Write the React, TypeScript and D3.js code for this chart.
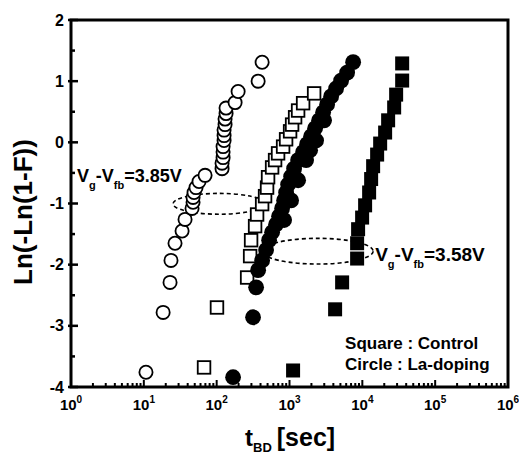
import React from "react";
import * as d3 from "d3";

// Weibull plot of breakdown time: ln(-ln(1-F)) vs t_BD
// Open markers: Vg-Vfb = 3.85 V, filled markers: Vg-Vfb = 3.58 V
// Squares: control, circles: La-doping

const laDoping385T = [10.7, 18.4, 22.9, 23.6, 26.8, 33.5, 36.8, 45.9, 47.4, 47.4, 48.9, 52.1, 57.3, 69.3, 118.6, 118.6, 122.5, 122.5, 122.5, 126.4, 126.4, 126.4, 130.4, 130.4, 134.6, 134.6, 179, 197, 371, 421];
const laDoping385V = [-3.76, -2.78, -2.29, -1.93, -1.65, -1.45, -1.26, -1.08, -0.98, -0.9, -0.82, -0.74, -0.64, -0.54, -0.43, -0.34, -0.25, -0.16, -0.07, 0.03, 0.11, 0.2, 0.29, 0.38, 0.47, 0.56, 0.65, 0.83, 1.0, 1.31];

const control385T = [67.1, 101, 262, 288, 297, 337, 359, 421, 462, 492, 508, 577, 634, 697, 817, 898, 1019, 1086, 1194, 1313, 1538, 2178];
const control385V = [-3.68, -2.7, -2.21, -1.86, -1.6, -1.37, -1.18, -1.01, -0.88, -0.74, -0.57, -0.41, -0.29, -0.18, -0.07, 0.05, 0.18, 0.29, 0.41, 0.52, 0.64, 0.8];

const laDoping358T = [168, 316, 348, 371, 421, 477, 525, 577, 655, 719, 791, 843, 843, 898, 957, 1052, 1052, 1156, 1313, 1313, 1538, 1690, 1745, 1919, 1981, 2248, 2318, 2551, 2894, 2985, 3284, 3727, 4365, 5115, 6184, 7477];
const laDoping358V = [-3.84, -2.86, -2.37, -2.09, -1.93, -1.76, -1.6, -1.47, -1.34, -1.21, -1.08, -0.95, -1.27, -0.82, -0.69, -0.56, -0.95, -0.43, -0.29, -0.62, -0.16, -0.29, -0.03, -0.13, 0.1, 0.23, 0.03, 0.36, 0.49, 0.36, 0.62, 0.75, 0.88, 1.01, 1.14, 1.31];

const control358T = [1120, 4229, 5279, 8482, 8482, 8750, 9934, 10920, 12400, 13210, 14070, 15970, 17570, 20560, 22610, 27350, 29120, 35230, 35230];
const control358V = [-3.73, -2.73, -2.29, -1.9, -1.65, -1.42, -1.23, -1.03, -0.82, -0.6, -0.39, -0.2, -0.02, 0.16, 0.36, 0.57, 0.78, 1.01, 1.29];

const xDecades = [0, 1, 2, 3, 4, 5, 6];
const yTicks = [-4, -3, -2, -1, 0, 1, 2];

const W = 519;
const H = 459;
const left = 71;
const right = 508;
const top = 20;
const bottom = 387;

const FONT = "'Liberation Sans', Arial, sans-serif";

export default function App() {
  const x = d3.scaleLog().domain([1, 1e6]).range([left, right]);
  const y = d3.scaleLinear().domain([-4, 2]).range([bottom, top]);

  const xMinor = x.ticks().filter((t) => !xDecades.includes(Math.round(Math.log10(t) * 1000) / 1000));
  const yMinor = d3.range(-3.5, 2, 1);

  const pts = (ts: number[], vs: number[]) => ts.map((t, i) => ({ cx: x(t), cy: y(vs[i]) }));

  // dashed ellipses grouping each bias condition
  const ell1 = { x0: x(25.2), x1: x(462), cy: y(-1.005), ry: y(-1.005) - y(-0.835) };
  const ell2 = { x0: x(421), x1: x(14070), cy: y(-1.78), ry: y(-1.78) - y(-1.57) };

  return (
    <svg width={W} height={H} style={{ position: "absolute", left: 0, top: 0, background: "#fff" }} fontFamily={FONT}>
      <rect x={0} y={0} width={W} height={H} fill="#fff" />

      {/* grouping ellipses */}
      {[ell1, ell2].map((e, i) => (
        <ellipse key={i} cx={(e.x0 + e.x1) / 2} cy={e.cy} rx={(e.x1 - e.x0) / 2} ry={e.ry}
          fill="none" stroke="#000" strokeWidth={1.6} strokeDasharray="4 3" />
      ))}

      {/* open circles: La-doping, 3.85 V */}
      {pts(laDoping385T, laDoping385V).map((p, i) => (
        <circle key={"oc" + i} cx={p.cx} cy={p.cy} r={6.6} fill="#fff" stroke="#000" strokeWidth={1.8} />
      ))}
      {/* open squares: control, 3.85 V */}
      {pts(control385T, control385V).map((p, i) => (
        <rect key={"os" + i} x={p.cx - 6.3} y={p.cy - 6.3} width={12.6} height={12.6} fill="#fff" stroke="#000" strokeWidth={1.8} />
      ))}
      {/* filled circles: La-doping, 3.58 V */}
      {pts(laDoping358T, laDoping358V).map((p, i) => (
        <circle key={"fc" + i} cx={p.cx} cy={p.cy} r={7.9} fill="#000" />
      ))}
      {/* filled squares: control, 3.58 V */}
      {pts(control358T, control358V).map((p, i) => (
        <rect key={"fs" + i} x={p.cx - 7} y={p.cy - 7} width={14} height={14} fill="#000" />
      ))}

      {/* frame */}
      <rect x={left} y={top} width={right - left} height={bottom - top} fill="none" stroke="#000" strokeWidth={3} />

      {/* x ticks */}
      {xDecades.map((d) => (
        <line key={"xM" + d} x1={x(10 ** d)} x2={x(10 ** d)} y1={bottom} y2={bottom - 7} stroke="#000" strokeWidth={2} />
      ))}
      {xMinor.map((t, i) => (
        <line key={"xm" + i} x1={x(t)} x2={x(t)} y1={bottom} y2={bottom - 4} stroke="#000" strokeWidth={2} />
      ))}
      {/* y ticks */}
      {yTicks.map((v) => (
        <line key={"yM" + v} x1={left - 3} x2={left + 7} y1={y(v)} y2={y(v)} stroke="#000" strokeWidth={2.5} />
      ))}
      {yMinor.map((v) => (
        <line key={"ym" + v} x1={left} x2={left + 4} y1={y(v)} y2={y(v)} stroke="#000" strokeWidth={2.5} />
      ))}

      {/* x tick labels */}
      {xDecades.map((d) => (
        <text key={"xl" + d} x={x(10 ** d)} y={410} textAnchor="middle" fontSize={15} fontWeight="bold">
          10<tspan fontSize={10} dy={-7}>{d}</tspan>
        </text>
      ))}
      {/* y tick labels */}
      {yTicks.map((v) => (
        <text key={"yl" + v} x={64} y={y(v) + 5.5} textAnchor="end" fontSize={16} fontWeight="bold">
          {v < 0 ? "-" + Math.abs(v) : String(v)}
        </text>
      ))}

      {/* axis titles */}
      <text transform={`translate(32, ${212}) rotate(-90)`} textAnchor="middle" fontSize={26} fontWeight="bold">
        Ln(-Ln(1-F))
      </text>
      <text x={245} y={446} fontSize={24} fontWeight="bold">
        t<tspan fontSize={13} dy={6}>BD</tspan>
        <tspan fontSize={25} dy={-6} dx={5}>[sec]</tspan>
      </text>

      {/* condition labels */}
      <text x={x(1.21)} y={y(-0.65)} fontSize={18} fontWeight="bold">
        V<tspan fontSize={11} dy={7}>g</tspan>
        <tspan dy={-7}>-V</tspan>
        <tspan fontSize={11} dy={7}>fb</tspan>
        <tspan dy={-7}>=3.85V</tspan>
      </text>
      <text x={x(15000)} y={y(-1.94)} fontSize={19} fontWeight="bold">
        V<tspan fontSize={11} dy={7}>g</tspan>
        <tspan dy={-7}>-V</tspan>
        <tspan fontSize={11} dy={7}>fb</tspan>
        <tspan dy={-7}>=3.58V</tspan>
      </text>

      {/* marker legend */}
      <text x={x(5800)} y={y(-3.38)} fontSize={17} fontWeight="bold">Square : Control</text>
      <text x={x(5800)} y={y(-3.73)} fontSize={17} fontWeight="bold">Circle : La-doping</text>
    </svg>
  );
}
